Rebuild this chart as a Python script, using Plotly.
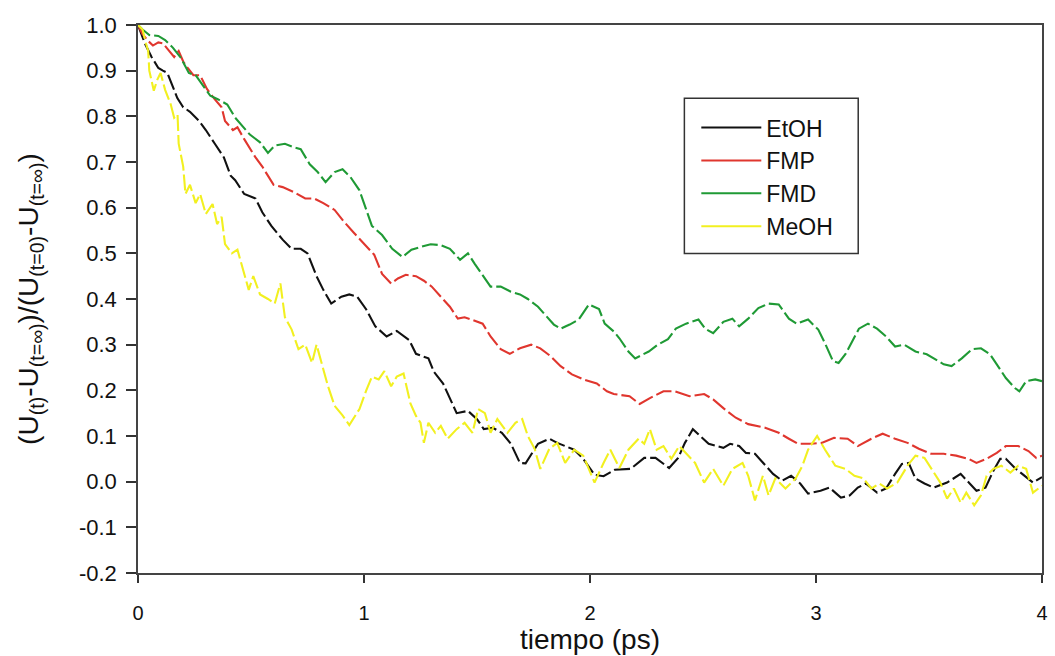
import plotly.graph_objects as go

# ---- data ----
etoh_t = [0, 0.03, 0.06, 0.09, 0.11, 0.13, 0.15, 0.174, 0.20, 0.23, 0.27, 0.30, 0.34, 0.38, 0.41, 0.43, 0.47, 0.52, 0.55, 0.59, 0.64, 0.68, 0.72, 0.75, 0.79, 0.82, 0.855, 0.90, 0.935, 0.97, 1.01, 1.05, 1.10, 1.145, 1.20, 1.23, 1.285, 1.31, 1.35, 1.39, 1.41, 1.46, 1.50, 1.53, 1.57, 1.61, 1.65, 1.69, 1.715, 1.77, 1.82, 1.855, 1.90, 1.93, 1.97, 2.02, 2.06, 2.11, 2.18, 2.24, 2.29, 2.35, 2.39, 2.42, 2.455, 2.49, 2.525, 2.59, 2.62, 2.66, 2.69, 2.73, 2.77, 2.81, 2.85, 2.89, 2.93, 2.965, 3.02, 3.06, 3.11, 3.15, 3.185, 3.22, 3.27, 3.31, 3.35, 3.38, 3.41, 3.44, 3.48, 3.52, 3.58, 3.64, 3.68, 3.71, 3.75, 3.785, 3.815, 3.84, 3.88, 3.92, 3.96, 4.0]
etoh_v = [1.0, 0.96, 0.93, 0.906, 0.90, 0.895, 0.87, 0.84, 0.82, 0.81, 0.79, 0.77, 0.74, 0.71, 0.67, 0.66, 0.63, 0.62, 0.59, 0.56, 0.53, 0.51, 0.51, 0.50, 0.45, 0.42, 0.39, 0.405, 0.41, 0.405, 0.377, 0.34, 0.318, 0.33, 0.31, 0.28, 0.27, 0.24, 0.215, 0.17, 0.15, 0.155, 0.137, 0.115, 0.118, 0.107, 0.083, 0.041, 0.04, 0.083, 0.094, 0.085, 0.075, 0.07, 0.05, 0.015, 0.012, 0.026, 0.028, 0.052, 0.052, 0.03, 0.052, 0.085, 0.115, 0.10, 0.083, 0.074, 0.083, 0.078, 0.063, 0.061, 0.039, 0.017, 0.002, 0.013, -0.004, -0.026, -0.02, -0.013, -0.035, -0.03, -0.013, -0.004, -0.024, -0.015, 0.017, 0.039, 0.041, 0.007, -0.004, -0.013, -0.002, 0.017, -0.004, -0.02, -0.013, 0.024, 0.05, 0.05, 0.03, 0.013, -0.002, 0.01]

fmp_t = [0, 0.02, 0.045, 0.066, 0.09, 0.11, 0.135, 0.16, 0.18, 0.20, 0.22, 0.245, 0.275, 0.305, 0.34, 0.37, 0.385, 0.42, 0.44, 0.47, 0.52, 0.55, 0.60, 0.64, 0.69, 0.74, 0.78, 0.82, 0.87, 0.91, 0.955, 1.0, 1.045, 1.08, 1.12, 1.15, 1.185, 1.23, 1.265, 1.30, 1.34, 1.38, 1.415, 1.445, 1.475, 1.525, 1.56, 1.605, 1.645, 1.69, 1.74, 1.78, 1.825, 1.87, 1.92, 1.97, 2.03, 2.075, 2.105, 2.175, 2.22, 2.265, 2.325, 2.375, 2.44, 2.505, 2.545, 2.59, 2.645, 2.70, 2.775, 2.835, 2.88, 2.92, 2.98, 3.025, 3.08, 3.14, 3.185, 3.245, 3.295, 3.35, 3.405, 3.455, 3.51, 3.565, 3.62, 3.675, 3.71, 3.755, 3.80, 3.84, 3.895, 3.94, 3.975, 4.0]
fmp_v = [1.0, 0.98, 0.965, 0.955, 0.962, 0.96, 0.945, 0.93, 0.943, 0.92, 0.906, 0.89, 0.89, 0.86, 0.837, 0.82, 0.79, 0.77, 0.776, 0.75, 0.71, 0.69, 0.65, 0.645, 0.634, 0.62, 0.62, 0.61, 0.595, 0.57, 0.545, 0.52, 0.497, 0.455, 0.434, 0.445, 0.453, 0.45, 0.44, 0.427, 0.405, 0.383, 0.357, 0.36, 0.355, 0.346, 0.318, 0.29, 0.28, 0.292, 0.30, 0.292, 0.275, 0.253, 0.235, 0.224, 0.215, 0.198, 0.192, 0.187, 0.17, 0.183, 0.198, 0.198, 0.187, 0.192, 0.18, 0.161, 0.14, 0.126, 0.118, 0.107, 0.094, 0.083, 0.083, 0.085, 0.096, 0.094, 0.078, 0.094, 0.105, 0.094, 0.085, 0.072, 0.061, 0.061, 0.057, 0.05, 0.041, 0.05, 0.063, 0.078, 0.078, 0.067, 0.052, 0.057]

fmd_t = [0, 0.02, 0.05, 0.09, 0.12, 0.155, 0.19, 0.225, 0.255, 0.285, 0.32, 0.355, 0.395, 0.43, 0.46, 0.495, 0.54, 0.575, 0.605, 0.65, 0.69, 0.72, 0.76, 0.795, 0.83, 0.87, 0.905, 0.94, 0.98, 1.015, 1.035, 1.08, 1.125, 1.17, 1.21, 1.25, 1.295, 1.34, 1.38, 1.425, 1.46, 1.49, 1.525, 1.56, 1.605, 1.65, 1.69, 1.725, 1.77, 1.80, 1.84, 1.87, 1.91, 1.95, 1.995, 2.04, 2.065, 2.105, 2.13, 2.17, 2.20, 2.26, 2.30, 2.345, 2.38, 2.425, 2.48, 2.51, 2.545, 2.59, 2.63, 2.66, 2.70, 2.745, 2.79, 2.835, 2.88, 2.915, 2.965, 3.01, 3.04, 3.075, 3.10, 3.13, 3.16, 3.19, 3.23, 3.27, 3.31, 3.35, 3.39, 3.44, 3.49, 3.53, 3.565, 3.60, 3.645, 3.69, 3.73, 3.77, 3.81, 3.84, 3.88, 3.90, 3.93, 3.97, 4.0]
fmd_v = [1.0, 0.99, 0.978, 0.976, 0.967, 0.95, 0.928, 0.895, 0.89, 0.87, 0.845, 0.837, 0.826, 0.797, 0.78, 0.76, 0.743, 0.72, 0.736, 0.74, 0.732, 0.728, 0.695, 0.678, 0.656, 0.678, 0.684, 0.667, 0.638, 0.59, 0.56, 0.54, 0.51, 0.492, 0.508, 0.514, 0.52, 0.518, 0.51, 0.486, 0.50, 0.477, 0.453, 0.427, 0.427, 0.416, 0.41, 0.40, 0.383, 0.366, 0.344, 0.335, 0.344, 0.355, 0.388, 0.378, 0.346, 0.329, 0.314, 0.285, 0.27, 0.285, 0.30, 0.312, 0.335, 0.346, 0.355, 0.335, 0.325, 0.35, 0.357, 0.34, 0.357, 0.38, 0.39, 0.388, 0.357, 0.346, 0.355, 0.333, 0.303, 0.264, 0.26, 0.279, 0.307, 0.335, 0.346, 0.335, 0.318, 0.296, 0.30, 0.285, 0.279, 0.268, 0.257, 0.253, 0.27, 0.29, 0.292, 0.279, 0.248, 0.227, 0.205, 0.198, 0.22, 0.224, 0.22]

meoh_t = [0, 0.02, 0.035, 0.045, 0.05, 0.07, 0.085, 0.10, 0.12, 0.145, 0.16, 0.175, 0.18, 0.20, 0.21, 0.23, 0.255, 0.275, 0.30, 0.33, 0.35, 0.37, 0.385, 0.415, 0.44, 0.465, 0.49, 0.51, 0.54, 0.575, 0.605, 0.63, 0.65, 0.68, 0.71, 0.74, 0.77, 0.79, 0.815, 0.84, 0.87, 0.905, 0.935, 0.965, 0.98, 1.01, 1.035, 1.065, 1.09, 1.12, 1.145, 1.175, 1.205, 1.23, 1.25, 1.265, 1.285, 1.315, 1.34, 1.37, 1.41, 1.445, 1.48, 1.505, 1.535, 1.56, 1.59, 1.635, 1.67, 1.70, 1.725, 1.755, 1.78, 1.82, 1.855, 1.89, 1.93, 1.97, 2.02, 2.06, 2.09, 2.13, 2.17, 2.215, 2.24, 2.265, 2.295, 2.325, 2.36, 2.395, 2.425, 2.465, 2.505, 2.545, 2.59, 2.63, 2.675, 2.70, 2.73, 2.765, 2.79, 2.82, 2.865, 2.91, 2.94, 2.965, 3.005, 3.04, 3.085, 3.13, 3.17, 3.21, 3.245, 3.28, 3.315, 3.36, 3.405, 3.44, 3.48, 3.51, 3.55, 3.58, 3.61, 3.64, 3.665, 3.70, 3.73, 3.755, 3.785, 3.82, 3.86, 3.895, 3.93, 3.96, 4.0]
meoh_v = [1.0, 0.99, 0.96, 0.943, 0.90, 0.856, 0.88, 0.895, 0.858, 0.826, 0.797, 0.804, 0.74, 0.69, 0.63, 0.65, 0.61, 0.63, 0.586, 0.608, 0.564, 0.58, 0.52, 0.50, 0.508, 0.464, 0.42, 0.45, 0.41, 0.40, 0.39, 0.434, 0.36, 0.333, 0.29, 0.30, 0.26, 0.30, 0.253, 0.21, 0.166, 0.145, 0.124, 0.148, 0.159, 0.20, 0.23, 0.224, 0.242, 0.209, 0.23, 0.237, 0.172, 0.144, 0.129, 0.085, 0.129, 0.107, 0.122, 0.094, 0.115, 0.129, 0.107, 0.159, 0.15, 0.107, 0.137, 0.107, 0.129, 0.137, 0.10, 0.072, 0.028, 0.072, 0.085, 0.041, 0.07, 0.057, -0.002, 0.041, 0.07, 0.03, 0.07, 0.094, 0.083, 0.115, 0.07, 0.078, 0.05, 0.078, 0.063, 0.041, -0.002, 0.028, -0.009, 0.028, 0.041, 0.013, -0.041, 0.013, -0.03, 0.007, -0.015, 0.007, 0.035, 0.07, 0.10, 0.07, 0.035, 0.028, 0.013, 0.007, -0.015, -0.004, -0.015, -0.002, 0.035, 0.057, 0.052, 0.028, -0.002, -0.037, -0.015, -0.046, -0.024, -0.052, -0.03, 0.013, 0.028, 0.035, 0.02, 0.035, 0.028, -0.024, -0.009]

series_names = ["EtOH", "FMP", "FMD", "MeOH"]
series_colors = ["#111111", "#e0362e", "#1f9a35", "#f2f020"]

x_ticks = [0, 1, 2, 3, 4]
y_ticks = [-0.2, -0.1, 0.0, 0.1, 0.2, 0.3, 0.4, 0.5, 0.6, 0.7, 0.8, 0.9, 1.0]
y_tick_text = ["-0.2", "-0.1", "0.0", "0.1", "0.2", "0.3", "0.4", "0.5", "0.6", "0.7", "0.8", "0.9", "1.0"]

data = [(etoh_t, etoh_v), (fmp_t, fmp_v), (fmd_t, fmd_v), (meoh_t, meoh_v)]

fig = go.Figure()
for (t, v), name, col in zip(data, series_names, series_colors):
    fig.add_trace(go.Scatter(
        x=t, y=v, mode="lines", name=name, showlegend=False,
        line=dict(color=col, width=2.1, dash="16px,4px"),
        legendgroup=name,
    ))
for name, col in zip(series_names, series_colors):
    fig.add_trace(go.Scatter(
        x=[None], y=[None], mode="lines", name=name,
        line=dict(color=col, width=2), legendgroup=name,
    ))

regular = "Liberation Sans, Arial, Helvetica, sans-serif"

fig.update_layout(
    width=1055, height=656,
    margin=dict(l=138, r=7, t=25, b=77),
    paper_bgcolor="white", plot_bgcolor="white",
    showlegend=True,
    legend=dict(
        x=0.6176, y=0.852, xanchor="left", yanchor="top",
        borderwidth=0, bgcolor="rgba(0,0,0,0)",
        font=dict(family=regular, size=23, color="#111111"),
        itemwidth=60, tracegroupgap=0, traceorder="normal",
    ),
    shapes=[dict(
        type="rect", xref="paper", yref="paper",
        x0=0.6044, x1=0.7967, y0=0.583, y1=0.8664,
        line=dict(color="#333333", width=1.5), fillcolor="rgba(0,0,0,0)",
        layer="above",
    )],
    xaxis=dict(
        range=[0, 4], tickvals=x_ticks, ticktext=[str(v) for v in x_ticks],
        ticks="outside", ticklen=8, tickwidth=1.5, tickcolor="#333333",
        showline=True, linecolor="#444444", linewidth=1.5, mirror=True,
        showgrid=False, zeroline=False, ticklabelstandoff=13,
        tickfont=dict(family=regular, size=20, color="#111111"),
        title=dict(text="tiempo (ps)", font=dict(family=regular, size=28, color="#111111"), standoff=6),
    ),
    yaxis=dict(
        range=[-0.2, 1.0], tickvals=y_ticks, ticktext=y_tick_text,
        ticks="outside", ticklen=10, tickwidth=1.5, tickcolor="#333333",
        showline=True, linecolor="#444444", linewidth=1.5, mirror=True,
        showgrid=False, zeroline=False, ticklabelstandoff=5,
        tickfont=dict(family=regular, size=22, color="#111111"),
        title=dict(
            text="(U<sub>(t)</sub>-U<sub>(t=∞)</sub>)/(U<sub>(t=0)</sub>-U<sub>(t=∞)</sub>)",
            font=dict(family=regular, size=28, color="#111111"), standoff=32,
        ),
    ),
)

fig.write_html("out.html", config={"displayModeBar": False},
               post_script="document.body.style.margin='0px';")
